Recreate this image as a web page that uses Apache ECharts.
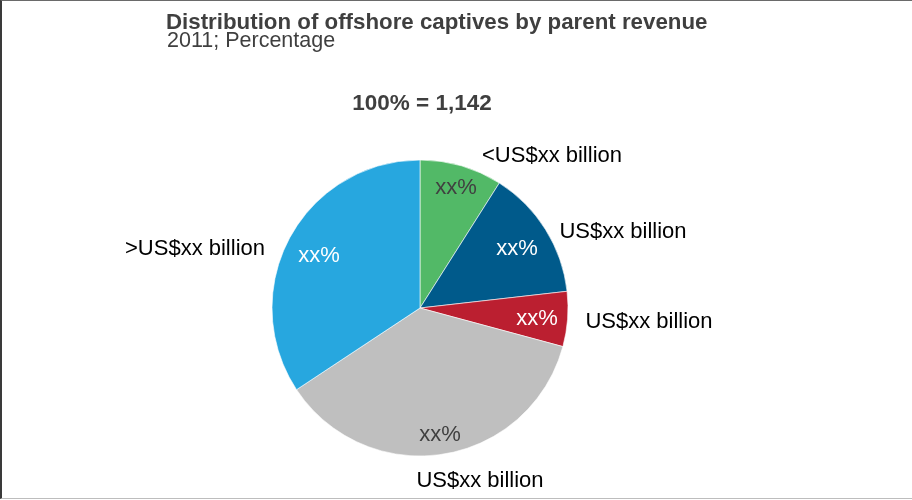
<!DOCTYPE html>
<html>
<head>
<meta charset="utf-8">
<script src="https://cdn.jsdelivr.net/npm/echarts@6/dist/echarts.min.js"></script>
<style>
  html, body { margin: 0; padding: 0; background: #fff; }
  #wrap { position: relative; width: 912px; height: 500px; }
  #chart { position: absolute; left: 0; top: 0; width: 912px; height: 500px; }
  #frame { position: absolute; left: 0; top: 0; width: 912px; height: 499px; box-sizing: border-box;
           border-top: 1px solid #6a6a6a; border-left: 2px solid #3a3a3a; border-bottom: 1px solid #bdbdbd;
           pointer-events: none; }
</style>
</head>
<body>
<div id="wrap"><div id="chart"></div><div id="frame"></div></div>
<script>
// ---- data ----
const categories = ['<US$xx billion', 'US$xx billion', 'US$xx billion', 'US$xx billion', '>US$xx billion'];
const shares = [9.0, 14.2, 6.0, 36.5, 34.3];
const valueLabels = ['xx%', 'xx%', 'xx%', 'xx%', 'xx%'];
const titleText = 'Distribution of offshore captives by parent revenue';
const subtitleText = '2011; Percentage';
const totalText = '100% = 1,142';

// ---- styling / layout ----
const sliceColors = ['#52B967', '#005A8B', '#BB1F30', '#BFBFBF', '#27A7DF'];
const innerTextColors = ['#404040', '#ffffff', '#ffffff', '#404040', '#ffffff'];
const FONT = "'Liberation Sans', Arial, Helvetica, sans-serif";
const CX = 420, CY = 308, R = 148;
// label anchor positions relative to pie centre
const innerPos = [[36, -120], [97, -59], [117, 11], [20, 127], [-101, -52]];
const outerPos = [[132, -152], [203, -76], [229, 14], [60, 173], [-225, -59]];

const chart = echarts.init(document.getElementById('chart'), null, { renderer: 'canvas' });

const pieData = categories.map((c, i) => ({
  name: c,
  value: shares[i],
  itemStyle: { color: sliceColors[i] },
  label: { color: innerTextColors[i] }
}));
const outerData = categories.map((c, i) => ({ name: c, value: shares[i] }));

chart.setOption({
  animation: false,
  backgroundColor: '#ffffff',
  title: [
    { text: titleText, left: 166, top: 12, padding: 0,
      textStyle: { fontFamily: FONT, fontSize: 22.3, fontWeight: 'bold', color: '#3f3f3f', lineHeight: 22 } },
    { text: subtitleText, left: 167, top: 30.5, padding: 0,
      textStyle: { fontFamily: FONT, fontSize: 21.5, fontWeight: 'normal', color: '#3f3f3f', lineHeight: 22 } },
    { text: totalText, left: 422, top: 92.5, padding: 0, textAlign: 'center',
      textStyle: { fontFamily: FONT, fontSize: 22.5, fontWeight: 'bold', color: '#3f3f3f', lineHeight: 22 } }
  ],
  series: [
    {
      type: 'pie',
      center: [CX, CY],
      radius: [0, R],
      startAngle: 90,
      clockwise: true,
      avoidLabelOverlap: false,
      silent: true,
      itemStyle: { borderColor: '#ffffff', borderWidth: 0.6 },
      label: {
        show: true, position: 'inside',
        formatter: p => valueLabels[p.dataIndex],
        fontFamily: FONT, fontSize: 22
      },
      labelLine: { show: false },
      labelLayout: p => ({
        x: CX + innerPos[p.dataIndex][0],
        y: CY + innerPos[p.dataIndex][1],
        align: 'center', verticalAlign: 'middle'
      }),
      data: pieData
    },
    {
      type: 'pie',
      center: [CX, CY],
      radius: [0, R],
      startAngle: 90,
      clockwise: true,
      avoidLabelOverlap: false,
      silent: true,
      z: 1,
      itemStyle: { color: 'rgba(0,0,0,0)', borderWidth: 0 },
      label: {
        show: true, position: 'outside',
        formatter: '{b}',
        fontFamily: FONT, fontSize: 22, color: '#000000'
      },
      labelLine: { show: false },
      labelLayout: p => ({
        x: CX + outerPos[p.dataIndex][0],
        y: CY + outerPos[p.dataIndex][1],
        align: 'center', verticalAlign: 'middle'
      }),
      data: outerData
    }
  ]
});
</script>
</body>
</html>
